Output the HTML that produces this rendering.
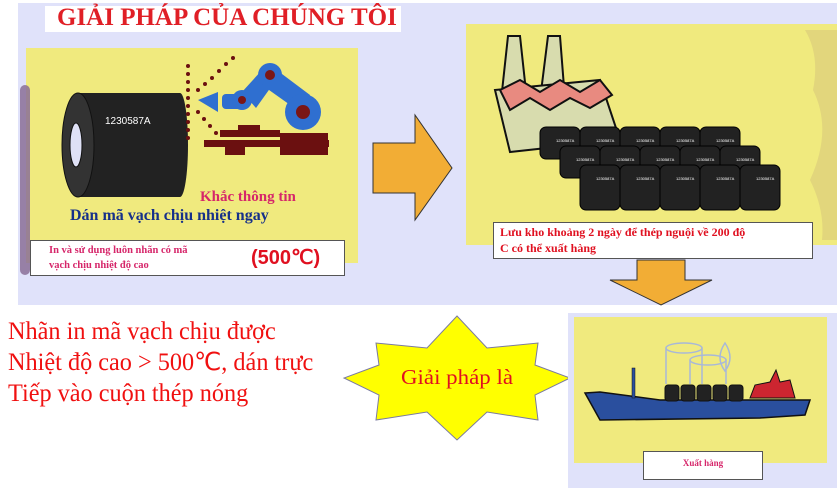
<!DOCTYPE html>
<html><head><meta charset="utf-8"><style>
body{margin:0;width:837px;height:493px;overflow:hidden;background:#fff;position:relative;font-family:"Liberation Serif",serif}
.a{position:absolute}
</style></head><body>
<div class="a" style="left:18px;top:3px;width:819px;height:302px;background:#e0e2fa"></div>
<div class="a" style="left:45px;top:6px;width:356px;height:26px;background:#fff"></div>
<div class="a" style="left:57px;top:4px;font-size:25px;font-weight:bold;color:#e01f26;white-space:nowrap">GIẢI PHÁP CỦA CHÚNG TÔI</div>
<div class="a" style="left:26px;top:48px;width:332px;height:215px;background:#f0ea7e"></div>
<div class="a" style="left:20px;top:85px;width:10px;height:190px;background:#8a6f96;border-radius:5px;opacity:.85"></div>
<svg class="a" style="left:0;top:0" width="837" height="493">
 <rect x="78" y="93" width="102" height="104" fill="#222"/>
 <ellipse cx="180" cy="145" rx="8" ry="52" fill="#222"/>
 <ellipse cx="78" cy="145" rx="16" ry="52" fill="#333" stroke="#111"/>
 <ellipse cx="76" cy="145" rx="6" ry="22" fill="#dfe1f6" stroke="#111"/>
 <text x="105" y="124" font-family="Liberation Sans" font-size="10" fill="#fff">1230587A</text>
 <g fill="#6b1010">
  <circle cx="188" cy="66" r="2"/><circle cx="188" cy="74" r="2"/><circle cx="188" cy="82" r="2"/><circle cx="188" cy="90" r="2"/><circle cx="188" cy="98" r="2"/><circle cx="188" cy="106" r="2"/><circle cx="188" cy="114" r="2"/><circle cx="188" cy="122" r="2"/><circle cx="188" cy="130" r="2"/><circle cx="188" cy="138" r="2"/>
  <circle cx="198" cy="90" r="2"/><circle cx="205" cy="84" r="2"/><circle cx="212" cy="78" r="2"/><circle cx="219" cy="71" r="2"/><circle cx="226" cy="64" r="2"/><circle cx="233" cy="58" r="2"/>
  <circle cx="198" cy="112" r="2"/><circle cx="204" cy="119" r="2"/><circle cx="210" cy="126" r="2"/><circle cx="216" cy="133" r="2"/>
  <rect x="220" y="130" width="60" height="7"/><rect x="238" y="125" width="22" height="6"/>
  <rect x="204" y="140" width="125" height="7"/><rect x="280" y="133" width="48" height="22"/>
  <rect x="225" y="147" width="20" height="8"/>
 </g>
 <g fill="#2f6fd0">
  <polygon points="198,100 218,92 218,112"/>
  <rect x="222" y="94" width="20" height="15" rx="4"/>
  <circle cx="242" cy="100" r="10"/>
  <polygon points="242,92 262,70 276,80 256,108"/>
  <circle cx="270" cy="75" r="12"/>
  <polygon points="270,65 310,95 300,112 262,85"/>
  <circle cx="303" cy="112" r="18"/>
 </g>
 <g fill="#7a1616"><circle cx="242" cy="100" r="4"/><circle cx="270" cy="75" r="5"/><circle cx="303" cy="112" r="7"/></g>
 <polygon points="373,143 415,143 415,115 452,168 415,220 415,193 373,193" fill="#f2ad35" stroke="#333" stroke-width="1"/>
 <rect x="466" y="24" width="371" height="221" fill="#f0ea7e"/>
 <path d="M805 30 q15 25 8 60 q20 40 -3 90 q15 30 12 60 l15 0 l0 -210z" fill="#d4c27a" opacity=".5"/>
 <g stroke="#111" stroke-width="2">
  <polygon points="508,36 520,36 528,110 500,110" fill="#d8dcae"/>
  <polygon points="548,36 560,36 565,100 540,100" fill="#d8dcae"/>
  <polygon points="495,90 600,80 620,140 510,152" fill="#d8dcae"/>
  <polygon points="500,90 520,80 540,92 560,80 580,92 600,80 612,95 590,108 570,98 550,110 530,98 510,110" fill="#e88a80"/>
 </g>
 <polygon points="637,260 685,260 685,280 712,280 661,305 610,280 637,280" fill="#f2ad35" stroke="#333" stroke-width="1"/>
 <polygon points="457,316 487,348 538,343 535,365 570,378 535,395 538,420 487,412 457,440 427,412 376,420 379,395 344,378 379,365 376,343 427,348" fill="#ffff00" stroke="#7a7aa0" stroke-width="1"/>
 <text x="457" y="384" text-anchor="middle" font-family="Liberation Serif" font-size="21" fill="#e01020" textLength="112" lengthAdjust="spacingAndGlyphs">Giải pháp là</text>
 <rect x="568" y="313" width="269" height="175" fill="#e0e2fa"/>
 <rect x="574" y="317" width="253" height="146" fill="#f0ea7e"/>
 <g fill="none" stroke="#a8b8d8" stroke-width="1.5">
  <ellipse cx="684" cy="348" rx="18" ry="5"/><line x1="666" y1="348" x2="666" y2="384"/><line x1="702" y1="348" x2="702" y2="384"/>
  <ellipse cx="708" cy="360" rx="18" ry="5"/><line x1="690" y1="360" x2="690" y2="384"/><line x1="726" y1="360" x2="726" y2="384"/>
  <path d="M725 343 q-10 15 0 28 q10 -13 0 -28z"/>
 </g>
 <polygon points="585,393 600,392 660,400 810,400 805,415 760,418 600,420" fill="#2a4f9e" stroke="#111" stroke-width="1.5"/>
 <rect x="632" y="368" width="3" height="30" fill="#2a4f9e" stroke="#111" stroke-width=".5"/>
 <polygon points="750,398 755,385 770,382 776,370 780,382 790,380 795,398" fill="#cc2530" stroke="#111"/>
 <g fill="#222" stroke="#111"><rect x="665" y="385" width="14" height="16" rx="3"/><rect x="681" y="385" width="14" height="16" rx="3"/><rect x="697" y="385" width="14" height="16" rx="3"/><rect x="713" y="385" width="14" height="16" rx="3"/><rect x="729" y="385" width="14" height="16" rx="3"/></g>
 <g fill="#222" stroke="#000">
  <rect x="540" y="127" width="40" height="32" rx="6"/><rect x="580" y="127" width="40" height="32" rx="6"/><rect x="620" y="127" width="40" height="32" rx="6"/><rect x="660" y="127" width="40" height="32" rx="6"/><rect x="700" y="127" width="40" height="32" rx="6"/>
  <rect x="560" y="146" width="40" height="32" rx="6"/><rect x="600" y="146" width="40" height="32" rx="6"/><rect x="640" y="146" width="40" height="32" rx="6"/><rect x="680" y="146" width="40" height="32" rx="6"/><rect x="720" y="146" width="40" height="32" rx="6"/>
  <rect x="580" y="165" width="40" height="45" rx="6"/><rect x="620" y="165" width="40" height="45" rx="6"/><rect x="660" y="165" width="40" height="45" rx="6"/><rect x="700" y="165" width="40" height="45" rx="6"/><rect x="740" y="165" width="40" height="45" rx="6"/>
 </g>
 <g font-family="Liberation Sans" font-size="4" fill="#fff">
  <text x="556" y="142">1230587A</text><text x="596" y="142">1230587A</text><text x="636" y="142">1230587A</text><text x="676" y="142">1230587A</text><text x="716" y="142">1230587A</text>
  <text x="576" y="161">1230587A</text><text x="616" y="161">1230587A</text><text x="656" y="161">1230587A</text><text x="696" y="161">1230587A</text><text x="736" y="161">1230587A</text>
  <text x="596" y="180">1230587A</text><text x="636" y="180">1230587A</text><text x="676" y="180">1230587A</text><text x="716" y="180">1230587A</text><text x="756" y="180">1230587A</text>
 </g>
</svg>
<div class="a" style="left:200px;top:189px;font-size:15px;font-weight:bold;color:#d6266a">Khắc thông tin</div>
<div class="a" style="left:70px;top:207px;font-size:16px;font-weight:bold;color:#16308a;white-space:nowrap">Dán mã vạch chịu nhiệt ngay</div>
<div class="a" style="left:30px;top:240px;width:313px;height:34px;background:#fff;border:1px solid #555"></div>
<div class="a" style="left:49px;top:243px;font-size:10.5px;font-weight:bold;color:#d6266a;line-height:15px">In và sử dụng luôn nhãn có mã<br>vạch chịu nhiệt độ cao</div>
<div class="a" style="left:251px;top:245px;font-family:'Liberation Sans',sans-serif;font-size:20px;font-weight:bold;color:#e01020">(500℃)</div>
<div class="a" style="left:493px;top:222px;width:318px;height:35px;background:#fff;border:1px solid #555"></div>
<div class="a" style="left:500px;top:224px;font-size:12px;font-weight:bold;color:#e01020;line-height:16px;white-space:nowrap">Lưu kho khoảng 2 ngày để thép nguội về 200 độ<br>C có thể xuất hàng</div>
<div class="a" style="left:643px;top:451px;width:118px;height:27px;background:#fff;border:1px solid #555"></div>
<div class="a" style="left:643px;top:458px;width:120px;text-align:center;font-size:9px;font-weight:bold;color:#d6266a">Xuất hàng</div>
<div class="a" style="left:8px;top:316px;font-size:25px;color:#f01010;line-height:31px;white-space:nowrap;transform:scaleX(.97);transform-origin:0 0">Nhãn in mã vạch chịu được<br>Nhiệt độ cao &gt; 500℃, dán trực<br>Tiếp vào cuộn thép nóng</div>
</body></html>
